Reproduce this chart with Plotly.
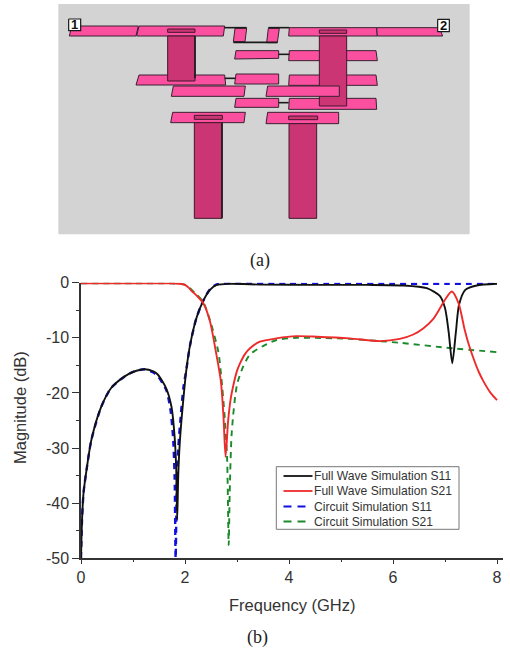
import plotly.graph_objects as go

# ---- chart data (b) ----
f_s11_full = [0,0.02,0.05,0.115,0.2,0.39,0.58,0.84,1.0,1.22,1.39,1.48,1.64,1.74,1.8,1.83,1.85,1.87,1.9,1.96,2.03,2.1,2.22,2.35,2.48,2.61,2.87,3.5,4.5,5.5,6.2,6.65,6.9,7.0,7.07,7.14,7.21,7.27,7.39,7.61,8.0]
s11_full   = [-50,-43,-38,-33.4,-28.5,-22.5,-19.1,-17,-16.2,-15.7,-16.1,-16.7,-19.2,-22.5,-27.9,-33.5,-43,-35,-29,-22,-15.5,-11.2,-6.4,-3.3,-1.3,-0.4,-0.2,-0.35,-0.4,-0.4,-0.5,-1,-2.4,-4.6,-8.9,-14.6,-8.9,-4,-1.3,-0.5,-0.2]

f_s21_full = [0,1,1.7,1.9,2.0,2.07,2.13,2.22,2.35,2.48,2.58,2.69,2.74,2.78,2.83,2.88,2.93,3.0,3.06,3.15,3.25,3.44,3.76,4.14,4.53,5.17,5.75,6.13,6.39,6.58,6.78,6.9,7.0,7.13,7.26,7.38,7.45,7.55,7.65,7.74,7.87,8.0]
s21_full   = [-0.1,-0.1,-0.1,-0.2,-0.4,-0.9,-1.5,-2.3,-3.7,-7,-11.8,-17.9,-24.3,-31.6,-25,-21,-18.6,-16,-14.6,-13,-11.9,-10.7,-10.1,-9.7,-9.8,-10.1,-10.6,-10.2,-9.4,-8.3,-6.5,-4.7,-3.1,-1.6,-3.7,-8.6,-11,-13.8,-16.2,-17.9,-19.9,-21.3]

f_s11_circ = [0,0.02,0.05,0.115,0.2,0.39,0.58,0.84,1.0,1.22,1.39,1.48,1.64,1.72,1.77,1.8,1.82,1.84,1.87,1.92,1.97,2.03,2.1,2.22,2.35,2.48,2.61,3.0,4.0,5.0,6.0,7.0,8.0]
s11_circ   = [-50,-43,-38,-33.4,-28.5,-22.5,-19.1,-17,-16.2,-15.7,-16.3,-17,-19.5,-23,-28,-35,-50,-38,-30,-24,-19,-15.5,-11.2,-6.4,-3.3,-1.2,-0.3,-0.1,-0.2,-0.2,-0.2,-0.2,-0.2]

f_s21_circ = [0,1,1.7,1.9,2.0,2.07,2.13,2.22,2.35,2.48,2.64,2.7,2.76,2.81,2.84,2.86,2.9,3.0,3.12,3.25,3.5,3.76,4.14,4.5,5.17,5.75,6.13,7.14,8.0]
s21_circ   = [-0.1,-0.1,-0.1,-0.2,-0.35,-0.8,-1.3,-2.1,-3.5,-6.8,-12.5,-17.3,-24,-32,-47.6,-38,-27,-18.5,-15.2,-13,-11.5,-10.4,-10,-10,-10.2,-10.6,-10.9,-11.9,-12.6]

x_ticks = [0,2,4,6,8]
y_ticks = [0,-10,-20,-30,-40,-50]
y_labels = ["0","-10","-20","-30","-40","-50"]
legend_labels = ["Full Wave Simulation S11","Full Wave Simulation S21","Circuit Simulation S11","Circuit Simulation S21"]
legend_colors = ["#111111","#ee2b2b","#1010e0","#1a8a2a"]

# ---- layout drawing (a), in its own coordinate system ----
GRAY = "#d3d3d3"; PINK = "#fb50a0"; STUB = "#cc3574"; BLACK = "#1a1a1a"
pads_under = [
    [(155,78),(355,78),(348,108),(148,108)],
    [(357,78),(614,78),(610,108),(350,108)],
    [(645,85),(680,85),(675,125),(640,125)],
    [(745,85),(778,85),(772,128),(740,128)],
    [(808,83),(1070,83),(1072,108),(806,108)],
    [(1070,83),(1258,83),(1268,108),(1072,108)],
    [(648,152),(776,152),(776,175),(644,177)],
    [(808,152),(1068,152),(1072,182),(806,182)],
    [(357,225),(614,225),(617,255),(348,255)],
    [(648,222),(776,222),(776,252),(644,252)],
    [(808,225),(1068,225),(1072,256),(806,256)],
    [(648,295),(776,295),(776,322),(644,322)],
    [(808,295),(1068,295),(1070,328),(806,328)],
]
stubs = [
    [(443,108),(525,108),(525,243),(443,243)],
    [(898,108),(980,108),(980,318),(898,318)],
    [(523,368),(606,368),(606,655),(523,655)],
    [(807,371),(890,371),(890,655),(807,655)],
]
pads_over = [
    [(460,258),(676,258),(672,289),(454,289)],
    [(743,258),(958,258),(958,289),(738,289)],
    [(458,337),(676,337),(672,368),(452,368)],
    [(743,337),(956,337),(956,371),(738,371)],
]
slots = [
    [(443,87),(525,87),(525,97),(443,97)],
    [(898,90),(980,90),(980,100),(898,100)],
    [(523,346),(607,346),(607,358),(523,358)],
    [(806,348),(893,348),(893,359),(806,359)],
]
links = [
    [(614,83),(680,83)], [(745,83),(808,83)], [(640,127),(772,127)],
    [(776,163),(808,163)], [(614,235),(646,235)], [(776,308),(806,308)],
    [(525,108),(525,235)], [(606,368),(606,655)],
]
ports = [("1",146,57,182,92),("2",1253,58,1288,95)]
background = [(115,12),(1349,12),(1349,703),(115,703)]

W, H = 510, 648
L, R, T, B = 81, 503, 282.7, 558.3
fig = go.Figure()

def poly(pts, fill, edge=BLACK, w=1):
    xs = [p[0] for p in pts] + [pts[0][0]]
    ys = [p[1] for p in pts] + [pts[0][1]]
    fig.add_trace(go.Scatter(x=xs, y=ys, xaxis="x2", yaxis="y2", mode="lines", fill="toself",
                             fillcolor=fill, line=dict(color=edge, width=w),
                             showlegend=False, hoverinfo="skip"))

poly(background, GRAY, GRAY, 0)
for p in pads_under: poly(p, PINK, "#3a2030", 1)
for p in stubs[:2]: poly(p, STUB, "#40182c", 1)
for p in pads_over: poly(p, PINK, "#3a2030", 1)
for p in stubs[2:]: poly(p, STUB, "#40182c", 1)
for p in slots: poly(p, STUB, "#40182c", 1)
for l in links:
    fig.add_trace(go.Scatter(x=[l[0][0],l[1][0]], y=[l[0][1],l[1][1]], xaxis="x2", yaxis="y2", mode="lines",
                             line=dict(color=BLACK, width=1.6), showlegend=False, hoverinfo="skip"))
for name,x0,y0,x1,y1 in ports:
    poly([(x0,y0),(x1,y0),(x1,y1),(x0,y1)], "white", BLACK, 1.2)
    fig.add_annotation(x=(x0+x1)/2, y=(y0+y1)/2, xref="x2", yref="y2", text=f"<b>{name}</b>", showarrow=False,
                       font=dict(family="Liberation Sans", size=13, color="#111"))

def curve(x, y, color, dash="solid", w=1.9):
    fig.add_trace(go.Scatter(x=x, y=y, mode="lines", showlegend=False,
                             line=dict(color=color, width=w, dash=dash, shape="spline", smoothing=0.7),
                             hoverinfo="skip"))

curve(f_s11_circ, s11_circ, legend_colors[2], "6px,5px", 2.4)
curve(f_s21_circ, s21_circ, legend_colors[3], "6px,5px", 1.9)
curve(f_s11_full, s11_full, legend_colors[0])
curve(f_s21_full, s21_full, legend_colors[1])

axis_font = dict(family="Liberation Sans", size=16, color="#333")
title_font = dict(family="Liberation Sans", size=16.5, color="#333")
fig.update_layout(
    width=W, height=H, margin=dict(l=0,r=0,t=0,b=0), paper_bgcolor="white", plot_bgcolor="rgba(0,0,0,0)",
    xaxis=dict(domain=[L/W, R/W], range=[0,(R-L)/52], tickvals=x_ticks, ticks="outside", ticklen=4, tickwidth=1.2,
               tickcolor="#333", showline=True, linecolor="#333", linewidth=1.5, showgrid=False, zeroline=False,
               tickfont=axis_font, anchor="y", automargin=False,
               minor=dict(tickvals=[1,3,5,7], ticks="outside", ticklen=2, tickcolor="#333", tickwidth=1)),
    yaxis=dict(domain=[1-B/H, 1-T/H], range=[-50,0], tickvals=y_ticks, ticktext=y_labels, ticks="outside", ticklen=7, tickwidth=1.2,
               tickcolor="#333", showline=True, linecolor="#333", linewidth=1.5, showgrid=False, zeroline=False,
               tickfont=axis_font, anchor="x", automargin=False,
               minor=dict(tickvals=[-5,-15,-25,-35,-45], ticks="outside", ticklen=3, tickcolor="#333", tickwidth=1)),
    xaxis2=dict(domain=[0,1], range=[-60,1470], visible=False, anchor="y2", automargin=False),
    yaxis2=dict(domain=[0,1], range=[1944,0], visible=False, anchor="x2", automargin=False),
    showlegend=False,
)
def note(text, px, py, font, angle=0, xanchor="center"):
    fig.add_annotation(x=px/W, y=1-py/H, xref="paper", yref="paper", text=text, showarrow=False, font=font,
                       textangle=angle, xanchor=xanchor, yanchor="middle")

note("Frequency (GHz)", 292, 605, title_font)
note("Magnitude (dB)", 20, 408, title_font, angle=-90)
note("(a)", 260, 260, dict(family="Liberation Serif", size=18, color="#222"))
note("(b)", 257, 637, dict(family="Liberation Serif", size=18, color="#222"))

# legend box, drawn to the reference's compact row spacing
fig.add_shape(type="rect", xref="paper", yref="paper", x0=276.3/W, x1=459/W, y0=1-529.3/H, y1=1-466.7/H,
              line=dict(color="#777", width=1), fillcolor="white", layer="above")
for i, (label, col, ypx) in enumerate(zip(legend_labels, legend_colors, [476, 491, 506.5, 521.5])):
    solid = i < 2
    fig.add_shape(type="line", xref="paper", yref="paper", x0=283.5/W, x1=(312.5 if solid else 305.5)/W, y0=1-ypx/H, y1=1-ypx/H,
                  line=dict(color=col, width=1.8, dash="solid" if solid else "8px,6px"), layer="above")
    note(label, 312, ypx, dict(family="Liberation Sans", size=12.1, color="#333"), xanchor="left")

fig.write_html("out.html", config=dict(displayModeBar=False), post_script="document.body.style.margin='0';")
